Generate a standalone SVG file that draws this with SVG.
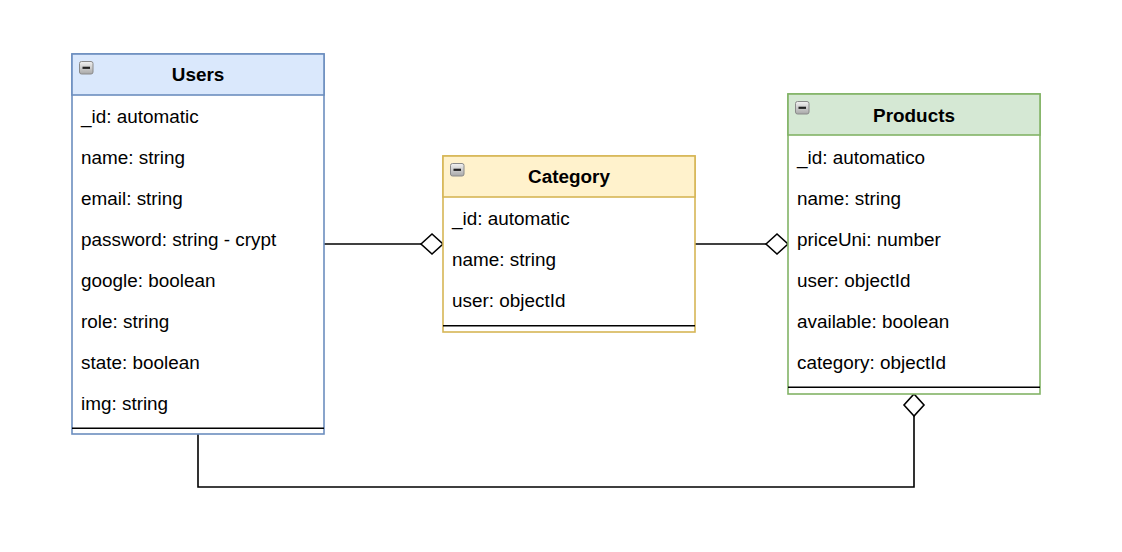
<svg xmlns="http://www.w3.org/2000/svg" width="1122" height="552" viewBox="0 0 1122 552">
<style>
text{font-family:"Liberation Sans",Arial,Helvetica,sans-serif;font-size:18.9px;fill:#000}
.title{font-weight:bold;text-anchor:middle}
.body{fill:#ffffff}
.sep{stroke:#000;stroke-width:1.6}
.conn{fill:none;stroke:#000;stroke-width:1.6}
.ic{stroke:#8a8a8a;stroke-width:1;fill:url(#icg)}
.icm{stroke:#222;stroke-width:2.2}
</style>
<defs>
<linearGradient id="icg" x1="0" y1="0" x2="0" y2="1">
<stop offset="0" stop-color="#f2f2f2"/>
<stop offset="1" stop-color="#a8a8a8"/>
</linearGradient>
<marker id="dia" viewBox="-2 -2 26 24" refX="22" refY="10" markerWidth="26" markerHeight="24" markerUnits="userSpaceOnUse" orient="auto" overflow="visible">
<path d="M0,10 L11,0 L22,10 L11,20 Z" fill="#fff" stroke="#000" stroke-width="1.6"/>
</marker>
</defs>
<rect width="1122" height="552" fill="#ffffff"/>
<g id="connectors">
<path class="conn" d="M324,244 L443,244" marker-end="url(#dia)"/>
<path class="conn" d="M695,244 L788,244" marker-end="url(#dia)"/>
<path class="conn" d="M198,434 L198,487 L914,487 L914,394" marker-end="url(#dia)"/>
</g>
<g id="users">
<rect x="72" y="54" width="252" height="380" class="body" stroke="#6c8ebf" stroke-width="1.6"/>
<rect x="72" y="54" width="252" height="41" fill="#dae8fc" stroke="#6c8ebf" stroke-width="1.6"/>
<rect x="79.5" y="61.5" width="13.5" height="12.5" rx="2" class="ic"/>
<line x1="82.5" y1="67.8" x2="90" y2="67.8" class="icm"/>
<text x="198" y="81.2" class="title">Users</text>
<text x="81" y="122.6">_id: automatic</text>
<text x="81" y="163.6">name: string</text>
<text x="81" y="204.6">email: string</text>
<text x="81" y="245.6">password: string - crypt</text>
<text x="81" y="286.6">google: boolean</text>
<text x="81" y="327.6">role: string</text>
<text x="81" y="368.6">state: boolean</text>
<text x="81" y="409.6">img: string</text>
<line x1="72" y1="428.2" x2="324" y2="428.2" class="sep"/>
</g>
<g id="category">
<rect x="443" y="156" width="252" height="176" class="body" stroke="#d6b656" stroke-width="1.6"/>
<rect x="443" y="156" width="252" height="41" fill="#fff2cc" stroke="#d6b656" stroke-width="1.6"/>
<rect x="450.5" y="163.5" width="13.5" height="12.5" rx="2" class="ic"/>
<line x1="453.5" y1="169.8" x2="461" y2="169.8" class="icm"/>
<text x="569" y="183.2" class="title">Category</text>
<text x="452" y="224.6">_id: automatic</text>
<text x="452" y="265.6">name: string</text>
<text x="452" y="306.6">user: objectId</text>
<line x1="443" y1="325.8" x2="695" y2="325.8" class="sep"/>
</g>
<g id="products">
<rect x="788" y="94" width="252" height="300" class="body" stroke="#82b366" stroke-width="1.6"/>
<rect x="788" y="94" width="252" height="41" fill="#d5e8d4" stroke="#82b366" stroke-width="1.6"/>
<rect x="795.5" y="101.5" width="13.5" height="12.5" rx="2" class="ic"/>
<line x1="798.5" y1="107.8" x2="806" y2="107.8" class="icm"/>
<text x="914" y="122.2" class="title">Products</text>
<text x="797" y="163.6">_id: automatico</text>
<text x="797" y="204.6">name: string</text>
<text x="797" y="245.6">priceUni: number</text>
<text x="797" y="286.6">user: objectId</text>
<text x="797" y="327.6">available: boolean</text>
<text x="797" y="368.6">category: objectId</text>
<line x1="788" y1="387.3" x2="1040" y2="387.3" class="sep"/>
</g>
</svg>
